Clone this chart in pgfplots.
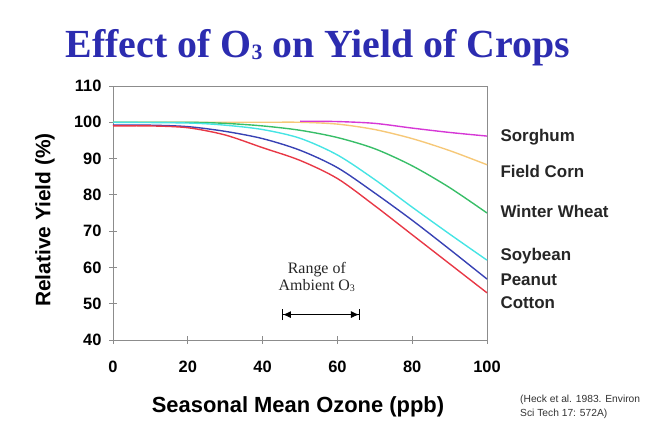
\documentclass[border=0pt]{standalone}
\usepackage{pgfplots}
\pgfplotsset{compat=1.18}
\usepackage{fontspec}
\setmainfont{Liberation Sans}
\newfontfamily\serif{Liberation Serif}
\usetikzlibrary{arrows.meta}
\definecolor{titleblue}{RGB}{44,44,176}
\definecolor{cSorg}{RGB}{214,56,214}
\definecolor{cCorn}{RGB}{246,200,120}
\definecolor{cWheat}{RGB}{56,190,104}
\definecolor{cSoy}{RGB}{70,228,228}
\definecolor{cPea}{RGB}{56,66,180}
\definecolor{cCot}{RGB}{232,56,70}
\definecolor{axgray}{RGB}{140,140,140}
\begin{document}
\begin{tikzpicture}
\path[use as bounding box] (0,0) rectangle (649bp,441bp);
\node[font=\serif\bfseries\fontsize{40}{44}\selectfont, text=titleblue] at (318bp,393bp) {Effect of O{\fontsize{22}{24}\selectfont\raisebox{-2bp}{3}} on Yield of Crops};
\node[font=\bfseries\fontsize{21}{24}\selectfont, rotate=90] at (45bp,221bp) {Relative Yield (\%)};
\node[font=\bfseries\fontsize{22}{26}\selectfont] at (298bp,34bp) {Seasonal Mean Ozone (ppb)};
\node[font=\fontsize{10.3}{14.5}\selectfont, align=left, anchor=west, text=black!80, inner sep=0pt] at (520bp,34bp) {(Heck et al. 1983. Environ\\Sci Tech 17: 572A)};
\begin{axis}[
  at={(113bp,101bp)}, anchor=south west,
  scale only axis, width=374bp, height=254bp,
  xmin=0, xmax=100, ymin=40, ymax=110,
  xtick={0,20,...,100}, ytick={40,50,...,110},
  xtick pos=bottom, ytick pos=left,
  tick align=center, major tick length=8bp,
  axis line style={axgray, line width=0.9pt},
  tick style={axgray, line width=0.9pt},
  /pgf/number format/assume math mode=true,
  ticklabel style={font=\bfseries\fontsize{16.5}{18}\selectfont},
  yticklabel style={xshift=-4bp},
  xticklabel style={yshift=-14bp},
  clip=false,
  every axis plot/.append style={line width=1.4pt, smooth, tension=0.5},
]
\addplot[cCorn] coordinates {(0,100)(20,100)(40,100)(50,100)(60,99.5)(70,98)(80,95.5)(90,92.2)(100,88.3)};
\addplot[cSorg] coordinates {(50,100.3)(60,100.2)(70,99.7)(80,98.4)(90,97.2)(100,96.2)};
\addplot[cWheat] coordinates {(0,100)(20,100)(30,99.7)(40,99)(50,97.8)(60,95.8)(70,92.7)(80,88)(90,82)(100,75)};
\addplot[cSoy] coordinates {(0,100)(20,99.8)(30,99.2)(40,98)(50,95.6)(60,91)(70,84.2)(80,76.6)(90,69.2)(100,62)};
\addplot[cPea] coordinates {(0,99.2)(10,99.2)(20,98.8)(30,97.5)(40,95.5)(50,92.3)(60,87.5)(70,80.5)(80,73)(90,65)(100,56.8)};
\addplot[cCot] coordinates {(0,99)(10,99)(20,98.5)(30,96.5)(40,93)(50,89.5)(60,84.5)(70,77)(80,69)(90,61)(100,53)};
\addplot[black, line width=0.9pt, smooth=false, {Bar[width=11bp]Latex[length=8bp,width=7bp]}-{Latex[length=8bp,width=7bp]Bar[width=11bp]}] coordinates {(45.2,47)(66,47)};
\node[font=\serif\fontsize{16}{17}\selectfont, align=center, text=black!85] at (axis cs:54.5,57.3) {Range of\\Ambient O{\fontsize{10}{11}\selectfont\raisebox{-1bp}{3}}};
\begin{scope}[every node/.style={anchor=west, font=\bfseries\fontsize{17}{19}\selectfont, xshift=10bp, text=black!85}]
\node at (axis cs:100,95.94) {Sorghum};
\node at (axis cs:100,86.57) {Field Corn};
\node at (axis cs:100,75.55) {Winter Wheat};
\node at (axis cs:100,63.15) {Soybean};
\node at (axis cs:100,56.53) {Peanut};
\node at (axis cs:100,50.19) {Cotton};
\end{scope}
\end{axis}
\end{tikzpicture}
\end{document}
